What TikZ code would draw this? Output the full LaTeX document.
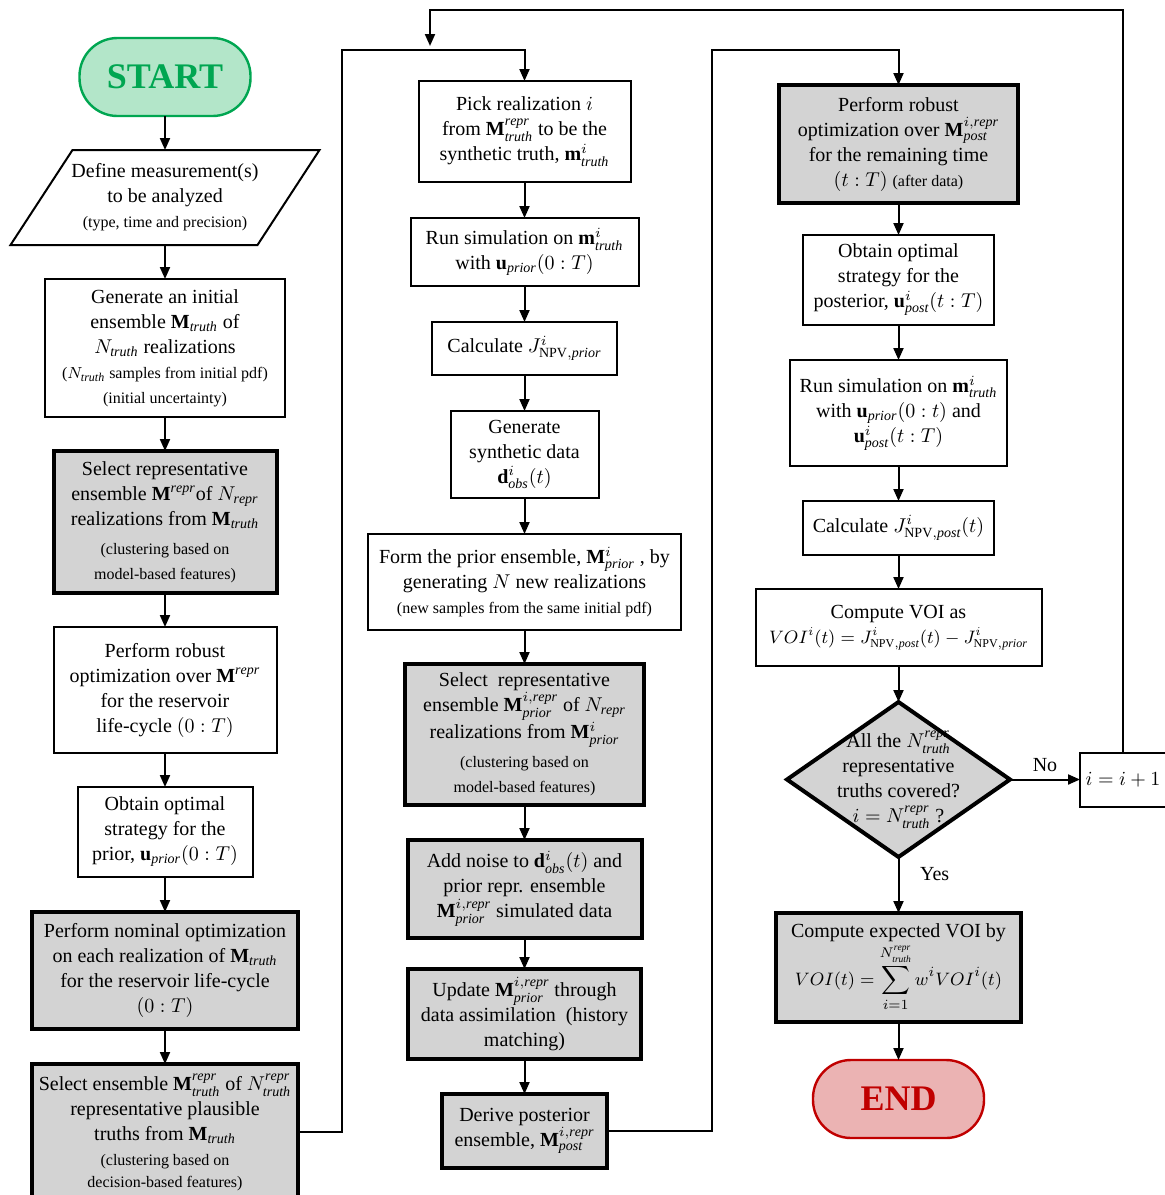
\documentclass[tikz,border=0pt]{standalone}
\usepackage{fontspec}
\setmainfont{Liberation Serif}
\usetikzlibrary{arrows.meta,positioning,shapes.geometric}
\definecolor{startColor}{HTML}{00A651}
\definecolor{startFill}{HTML}{B3E6C9}
\definecolor{endColor}{HTML}{C00000}
\definecolor{endFill}{HTML}{EBB3B3}
\definecolor{keyFill}{HTML}{D3D3D3}
\newcommand{\smallnote}[1]{{\fontsize{8}{12}\selectfont #1}}

\begin{document}
\begin{tikzpicture}[%
    x=0.5pt,y=0.5pt,>={Triangle[length=6pt,width=5pt]},align=center,
    every node/.style={font=\fontsize{10}{12.5}\selectfont}]
    \tikzstyle{base}=[node distance=17pt,draw=black,line width=1pt,inner sep=2pt,outer sep=0pt]
    \tikzstyle{terminal}=[base,rectangle,rounded corners=19pt,line width=1.2pt,minimum width=85.5pt,minimum height=39pt,font=\fontsize{18}{20}\selectfont\bfseries]
    \tikzstyle{process}=[base,rectangle,fill=white]
    \tikzstyle{keyprocess}=[base,rectangle,fill=keyFill,line width=2pt]
    \tikzstyle{datainput}=[base,rectangle,draw=none,minimum width=123.5pt,minimum height=47.5pt,inner sep=0pt]
    \tikzstyle{decision}=[base,diamond,aspect=1.44,fill=keyFill,line width=2pt,inner sep=-20pt,minimum width=111.5pt,minimum height=77.5pt]
    \tikzstyle{start}=[terminal,draw=startColor,fill=startFill,text=startColor]
    \tikzstyle{finish}=[terminal,draw=endColor,fill=endFill,text=endColor]
    \tikzstyle{link}=[->,line width=1pt]
    \useasboundingbox (0,0) rectangle (1164,-1195);
    % Column 1: initial ensemble and plausible truths
    \node (start) [start] at (165,-77) {START};
    \node (define) [datainput,below=of start]
          {Define measurement(s)\\to be analyzed\\ \smallnote{(type, time and precision)}};
    \draw [line width=1pt] ([xshift=15.5pt]define.north west) -- ([xshift=15.5pt]define.north east)
          -- ([xshift=-15.5pt]define.south east) -- ([xshift=-15.5pt]define.south west) -- cycle;
    \node (initEns) [process,below=of define,minimum width=120pt,minimum height=69pt]
          {Generate an initial\\ensemble $\mathbf{M}_{\mathit{truth}}$ of\\$N_{\mathit{truth}}$ realizations\\ \smallnote{($N_{\mathit{truth}}$ samples from initial pdf)}\\ \smallnote{(initial uncertainty)}};
    \node (selRepr) [keyprocess,below=of initEns,minimum width=111.5pt,minimum height=71pt]
          {Select representative\\ensemble $\mathbf{M}^{\mathit{repr}}$of $N_{\mathit{repr}}$\\realizations from $\mathbf{M}_{\mathit{truth}}$\\[2pt] \smallnote{(clustering based on}\\ \smallnote{model-based features)}};
    \node (robPrior) [process,below=of selRepr,minimum width=111.5pt,minimum height=63pt]
          {Perform robust\\optimization over $\mathbf{M}^{\mathit{repr}}$\\for the reservoir\\life-cycle $(0:T)$};
    \node (optPrior) [process,below=of robPrior,minimum width=87.5pt,minimum height=45pt]
          {Obtain optimal\\strategy for the\\prior, $\mathbf{u}_{\mathit{prior}}(0:T)$};
    \node (nomOpt) [keyprocess,below=17.5pt of optPrior,minimum width=133pt,minimum height=58.5pt]
          {Perform nominal optimization\\on each realization of $\mathbf{M}_{\mathit{truth}}$\\for the reservoir life-cycle\\$(0:T)$};
    \node (selTruth) [keyprocess,below=17.5pt of nomOpt,minimum width=133pt,minimum height=68pt,inner ysep=1pt]
          {Select ensemble $\mathbf{M}^{\mathit{repr}}_{\mathit{truth}}$ of $N^{\mathit{repr}}_{\mathit{truth}}$\\representative plausible\\truths from $\mathbf{M}_{\mathit{truth}}$\\ \smallnote{(clustering based on}\\[-1.5pt] \smallnote{decision-based features)}};
    % Column 2: synthetic truth and data assimilation
    \node (pick) [process,minimum width=106pt,minimum height=50.5pt] at (524.5,-131.5)
          {Pick realization $i$\\from $\mathbf{M}^{\mathit{repr}}_{\mathit{truth}}$ to be the\\synthetic truth, $\mathbf{m}^{i}_{\mathit{truth}}$};
    \node (runPrior) [process,below=18pt of pick,minimum width=114pt,minimum height=34pt]
          {Run simulation on $\mathbf{m}^{i}_{\mathit{truth}}$\\with $\mathbf{u}_{\mathit{prior}}(0:T)$};
    \node (calcPrior) [process,below=18pt of runPrior,minimum width=92.5pt,minimum height=26.5pt]
          {Calculate $J^{i}_{\mathrm{NPV},\mathit{prior}}$};
    \node (genData) [process,below=18pt of calcPrior,minimum width=74pt,minimum height=43.5pt]
          {Generate\\synthetic data\\$\mathbf{d}^{i}_{\mathit{obs}}(t)$};
    \node (formPrior) [process,below=18pt of genData,minimum width=156.5pt,minimum height=48pt]
          {Form the prior ensemble, $\mathbf{M}^{i}_{\mathit{prior}}$ , by\\generating $N$ new realizations\\ \smallnote{(new samples from the same initial pdf)}};
    \node (selPrior) [keyprocess,below=of formPrior,minimum width=119.5pt,minimum height=70.5pt]
          {Select~ representative\\ensemble $\mathbf{M}^{i,\mathit{repr}}_{\mathit{prior}}$ of $N_{\mathit{repr}}$\\realizations from $\mathbf{M}^{i}_{\mathit{prior}}$\\[2pt] \smallnote{(clustering based on}\\ \smallnote{model-based features)}};
    \node (addNoise) [keyprocess,below=17.5pt of selPrior,minimum width=117pt,minimum height=49pt]
          {Add noise to $\mathbf{d}^{i}_{\mathit{obs}}(t)$ and\\prior repr. ensemble\\$\mathbf{M}^{i,\mathit{repr}}_{\mathit{prior}}$ simulated data};
    \node (update) [keyprocess,below=15.5pt of addNoise,minimum width=116.5pt,minimum height=45pt]
          {Update $\mathbf{M}^{i,\mathit{repr}}_{\mathit{prior}}$ through\\data assimilation~ (history\\matching)};
    \node (derive) [keyprocess,below=17.5pt of update,minimum width=82.5pt,minimum height=37pt]
          {Derive posterior\\ensemble, $\mathbf{M}^{i,\mathit{repr}}_{\mathit{post}}$};
    % Column 3: posterior optimization and VOI
    \node (robPost) [keyprocess,minimum width=119.5pt,minimum height=59pt] at (898.5,-144)
          {Perform robust\\optimization over $\mathbf{M}^{i,\mathit{repr}}_{\mathit{post}}$\\for the remaining time\\$(t:T)$ \smallnote{(after data)}};
    \node (optPost) [process,below=16pt of robPost,minimum width=95.5pt,minimum height=45pt]
          {Obtain optimal\\strategy for the\\posterior, $\mathbf{u}^{i}_{\mathit{post}}(t:T)$};
    \node (runPost) [process,below=17.5pt of optPost,minimum width=108.5pt,minimum height=53pt]
          {Run simulation on $\mathbf{m}^{i}_{\mathit{truth}}$\\with $\mathbf{u}_{\mathit{prior}}(0:t)$ and\\$\mathbf{u}^{i}_{\mathit{post}}(t:T)$};
    \node (calcPost) [process,below=17.5pt of runPost,minimum width=95.5pt,minimum height=27pt]
          {Calculate $J^{i}_{\mathrm{NPV},\mathit{post}}(t)$};
    \node (voi) [process,below=of calcPost,minimum width=143pt,minimum height=38.5pt]
          {Compute VOI as\\{\fontsize{9}{12.5}\selectfont$VOI^{i}(t)=J^{i}_{\mathrm{NPV},\mathit{post}}(t)-J^{i}_{\mathrm{NPV},\mathit{prior}}$}};
    \node (covered) [decision,below=18pt of voi]
          {All the $N^{\mathit{repr}}_{\mathit{truth}}$\\representative\\truths covered?\\$i=N^{\mathit{repr}}_{\mathit{truth}}$ ?};
    \node (incr) [process,right=35pt of covered,minimum width=43pt,minimum height=27pt]
          {$i=i+1$};
    \node (expVoi) [keyprocess,below=28pt of covered,minimum width=122.5pt,minimum height=54.5pt]
          {Compute expected VOI by\\{\fontsize{9.5}{12.5}\selectfont$\displaystyle VOI(t)=\sum_{i=1}^{N^{\mathit{repr}}_{\mathit{truth}}} w^{i}VOI^{i}(t)$}};
    \node (end) [finish,below=19pt of expVoi]                {END};
    % Loop corners
    \coordinate (loopA) at (342,-50);
    \coordinate (loopB) at (712,-50);
    \coordinate (loopC) at (430,-10);
    \coordinate (loopEnd) at (430,-46);
    % Edges
    \draw [link] (start) -- (define);
    \draw [link] (define) -- (initEns);
    \draw [link] (initEns) -- (selRepr);
    \draw [link] (selRepr) -- (robPrior);
    \draw [link] (robPrior) -- (optPrior);
    \draw [link] (optPrior) -- (nomOpt);
    \draw [link] (nomOpt) -- (selTruth);
    \draw [link] (selTruth.east) -| (loopA) -| (pick.north);
    \draw [link] (pick) -- (runPrior);
    \draw [link] (runPrior) -- (calcPrior);
    \draw [link] (calcPrior) -- (genData);
    \draw [link] (genData) -- (formPrior);
    \draw [link] (formPrior) -- (selPrior);
    \draw [link] (selPrior) -- (addNoise);
    \draw [link] (addNoise) -- (update);
    \draw [link] (update) -- (derive);
    \draw [link] (derive.east) -| (loopB) -| (robPost.north);
    \draw [link] (robPost) -- (optPost);
    \draw [link] (optPost) -- (runPost);
    \draw [link] (runPost) -- (calcPost);
    \draw [link] (calcPost) -- (voi);
    \draw [link] (voi) -- (covered);
    \draw [link] (covered) -- node[anchor=south] {No} (incr);
    \draw [link] (covered) -- node[anchor=west,pos=0.3,xshift=7pt] {Yes} (expVoi);
    \draw [link] (expVoi) -- (end);
    \draw [link] (incr.north) |- (loopC) -- (loopEnd);
\end{tikzpicture}
\end{document}
